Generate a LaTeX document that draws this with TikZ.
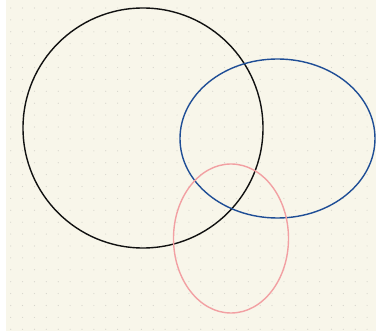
\documentclass[tikz,border=0pt]{standalone}
\definecolor{bgcream}{HTML}{F8F6EA}
\definecolor{dotgray}{HTML}{D6D5CC}
\definecolor{ringblue}{HTML}{1F4E96}
\definecolor{ringpink}{HTML}{F2A0A3}
\definecolor{ringblack}{HTML}{111111}
\begin{document}
\begin{tikzpicture}[x=1pt,y=-1pt,
  ring/.style={line width=1.4pt}]
\useasboundingbox (0,0) rectangle (376,331);
\fill[white] (0,0) rectangle (376,331);
\fill[bgcream] (6,0) rectangle (376,331);
\foreach \i in {0,...,30}{
  \foreach \j in {0,...,27}{
    \fill[dotgray] ({10.7+11.88*\i},{8+11.9*\j}) circle (0.6);
  }
}
\begin{scope}
\clip (0,0) rectangle (376,331);
\draw[ring,ringblack] (143,128) circle (120);
\draw[ring,ringblue] (277.5,138.5) ellipse (97.5 and 79.5);
\draw[ring,ringpink] (231,238.5) ellipse (57.5 and 74.5);
\end{scope}
\end{tikzpicture}
\end{document}
